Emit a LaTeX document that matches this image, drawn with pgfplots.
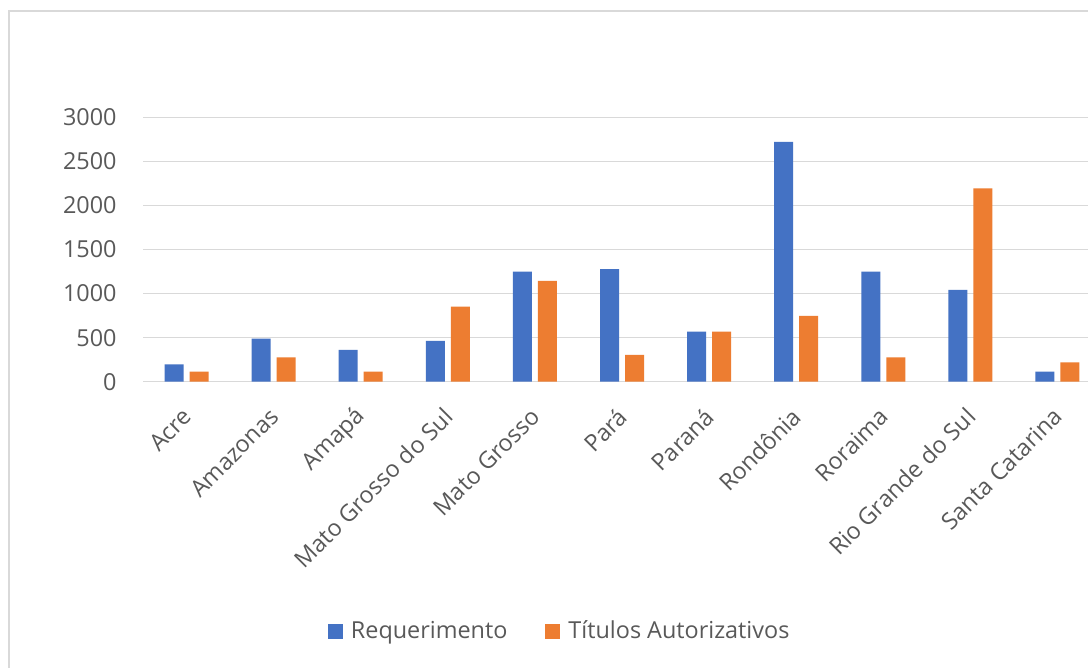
\documentclass[border=0pt]{standalone}
\usepackage{pgfplots}
\pgfplotsset{compat=1.18}
\usepackage{fontspec}
\setmainfont{Open Sans}
\definecolor{xblue}{HTML}{4472C4}
\definecolor{xorange}{HTML}{ED7D31}
\definecolor{xgrid}{HTML}{D9D9D9}
\definecolor{xtext}{HTML}{595959}
\begin{document}
\begin{tikzpicture}
\useasboundingbox (0,0) rectangle (544bp,334bp);
\fill[white] (0,0) rectangle (544bp,334bp);
\clip (0,0) rectangle (544bp,334bp);
\draw[xgrid, line width=0.8bp] (4.5bp,-20bp) -- (4.5bp,328.5bp) -- (600bp,328.5bp);
\begin{axis}[
  at={(71.5bp,143.15bp)}, anchor=south west,
  scale only axis, width=479bp, height=132.2bp,
  xmin=-0.5, xmax=10.5, ymin=0, ymax=3000,
  ybar=3bp, bar width=9.5bp,
  axis line style={draw=none},
  major tick length=0pt,
  ymajorgrids, grid style={color=xgrid, line width=0.7bp},
  ytick={0,500,1000,1500,2000,2500,3000},
  xtick={0,1,2,3,4,5,6,7,8,9,10},
  xticklabels={Acre,Amazonas,Amapá,Mato Grosso do Sul,Mato Grosso,Pará,Paraná,Rondônia,Roraima,Rio Grande do Sul,Santa Catarina},
  /pgf/number format/assume math mode=true,
  /pgf/number format/1000 sep={},
  tick label style={font=\fontsize{11.7bp}{14bp}\selectfont, text=xtext},
  yticklabel style={anchor=east, inner sep=0pt, xshift=-13bp},
  xticklabel style={xshift=0.5bp, yshift=-15.3bp, rotate=45, anchor=east, inner sep=0pt},
  legend style={at={(0.436,-0.943)}, anchor=center, draw=none, fill=none,
    font=\fontsize{11.7bp}{14bp}\selectfont, text=xtext,
    legend columns=-1,
    /tikz/every even column/.append style={column sep=17bp},
    /tikz/every odd column/.append style={column sep=2bp}},
  legend image code/.code={\fill[#1] (0bp,-3.75bp) rectangle (7.5bp,3.75bp);},
]
\addplot[fill=xblue, draw=none] coordinates {(0,197) (1,488) (2,360) (3,462) (4,1249) (5,1276) (6,568) (7,2721) (8,1249) (9,1041) (10,113)};
\addplot[fill=xorange, draw=none] coordinates {(0,113) (1,277) (2,113) (3,851) (4,1143) (5,303) (6,568) (7,746) (8,277) (9,2195) (10,220)};
\legend{Requerimento, Títulos Autorizativos}
\end{axis}
\end{tikzpicture}
\end{document}
